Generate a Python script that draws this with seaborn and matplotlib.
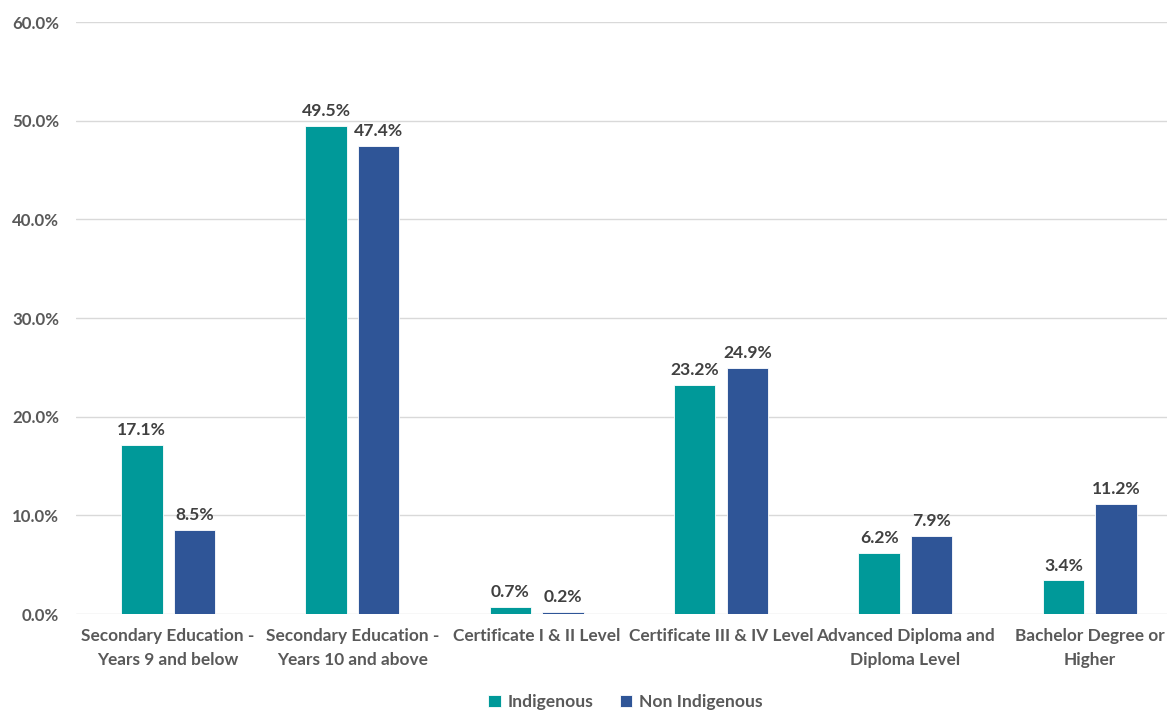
import matplotlib
matplotlib.use("Agg")
import matplotlib.pyplot as plt
import seaborn as sns
import pandas as pd
from matplotlib.ticker import FuncFormatter

categories = [
    "Secondary Education -\nYears 9 and below",
    "Secondary Education -\nYears 10 and above",
    "Certificate I & II Level",
    "Certificate III & IV Level",
    "Advanced Diploma and\nDiploma Level",
    "Bachelor Degree or\nHigher",
]
series_names = ["Indigenous", "Non Indigenous"]
indigenous = [17.1, 49.5, 0.7, 23.2, 6.2, 3.4]
non_indigenous = [8.5, 47.4, 0.2, 24.9, 7.9, 11.2]
y_ticks = [0, 10, 20, 30, 40, 50, 60]

colors = ["#009999", "#2F5597"]

df = pd.DataFrame({
    "category": categories * 2,
    "group": [series_names[0]] * len(categories) + [series_names[1]] * len(categories),
    "value": indigenous + non_indigenous,
})

sns.set_theme(style="white")
plt.rcParams["font.family"] = ["Lato", "DejaVu Sans"]

fig = plt.figure(figsize=(11.67, 7.11), dpi=100)
ax = fig.add_axes([0.065, 0.1364, 0.9477, 0.8326])

sns.barplot(data=df, x="category", y="value", hue="group", order=categories,
            hue_order=series_names, palette=colors, saturation=1,
            width=0.57, gap=0.21, edgecolor="white", linewidth=0.6,
            ax=ax, legend=True)

ax.set_ylim(0, 60)
ax.set_yticks(y_ticks)
ax.yaxis.set_major_formatter(FuncFormatter(lambda v, _: f"{v:.1f}%"))
ax.grid(axis="y", color="#d9d9d9", linewidth=1)
ax.set_axisbelow(True)
for s in ["top", "right", "left", "bottom"]:
    ax.spines[s].set_visible(False)
ax.set_xlabel("")
ax.set_ylabel("")
ax.tick_params(axis="both", length=0, colors="#595959")
for lbl in ax.get_xticklabels():
    lbl.set_fontweight("bold")
    lbl.set_fontsize(12.4)
    lbl.set_color("#595959")
    lbl.set_linespacing(1.6)
for lbl in ax.get_yticklabels():
    lbl.set_fontweight("bold")
    lbl.set_fontsize(12.2)
    lbl.set_color("#595959")
ax.tick_params(axis="x", pad=10)
ax.tick_params(axis="y", pad=12)

for container in ax.containers:
    ax.bar_label(container, labels=[f"{v:.1f}%" for v in container.datavalues],
                 padding=5, fontsize=12.6, fontweight="bold", color="#404040")

leg = ax.legend(loc="upper center", bbox_to_anchor=(0.497, -0.118), ncol=2,
                frameon=False, handlelength=0.7, handleheight=0.7,
                handletextpad=0.4, columnspacing=1.5, borderpad=0.1,
                prop={"weight": "bold", "size": 12.6})
for t in leg.get_texts():
    t.set_color("#595959")

fig.savefig("out.png", dpi=100)
